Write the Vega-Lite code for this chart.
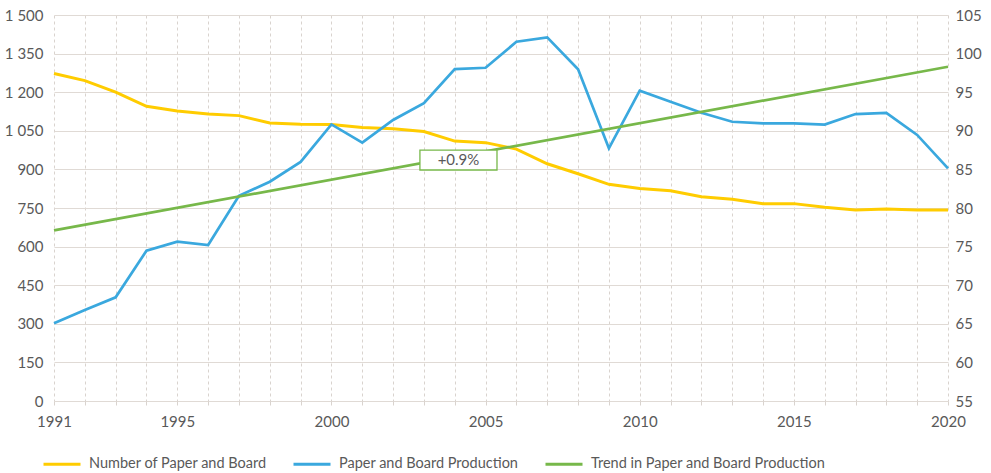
{
  "$schema": "https://vega.github.io/schema/vega-lite/v6.json",
  "autosize": {"type": "none"},
  "width": 894,
  "height": 386,
  "padding": {"left": 54, "top": 15, "right": 43, "bottom": 72},
  "background": "white",
  "config": {
    "view": {"stroke": null},
    "font": "Lato",
    "axis": {"labelFont": "Lato", "labelFontSize": 15, "labelColor": "#595959", "title": null, "labelOverlap": false},
    "legend": {"labelFont": "Lato", "labelFontSize": 14.5, "labelColor": "#595959", "labelLimit": 400}
  },
  "datasets": {
    "series": [
      {"year": 1991, "series": "Number of Paper and Board", "value": 1273},
      {"year": 1992, "series": "Number of Paper and Board", "value": 1245},
      {"year": 1993, "series": "Number of Paper and Board", "value": 1200},
      {"year": 1994, "series": "Number of Paper and Board", "value": 1145},
      {"year": 1995, "series": "Number of Paper and Board", "value": 1127},
      {"year": 1996, "series": "Number of Paper and Board", "value": 1115},
      {"year": 1997, "series": "Number of Paper and Board", "value": 1109},
      {"year": 1998, "series": "Number of Paper and Board", "value": 1080},
      {"year": 1999, "series": "Number of Paper and Board", "value": 1075},
      {"year": 2000, "series": "Number of Paper and Board", "value": 1074},
      {"year": 2001, "series": "Number of Paper and Board", "value": 1063},
      {"year": 2002, "series": "Number of Paper and Board", "value": 1058},
      {"year": 2003, "series": "Number of Paper and Board", "value": 1047},
      {"year": 2004, "series": "Number of Paper and Board", "value": 1010},
      {"year": 2005, "series": "Number of Paper and Board", "value": 1004},
      {"year": 2006, "series": "Number of Paper and Board", "value": 979},
      {"year": 2007, "series": "Number of Paper and Board", "value": 922},
      {"year": 2008, "series": "Number of Paper and Board", "value": 883},
      {"year": 2009, "series": "Number of Paper and Board", "value": 842},
      {"year": 2010, "series": "Number of Paper and Board", "value": 826},
      {"year": 2011, "series": "Number of Paper and Board", "value": 817},
      {"year": 2012, "series": "Number of Paper and Board", "value": 794},
      {"year": 2013, "series": "Number of Paper and Board", "value": 784},
      {"year": 2014, "series": "Number of Paper and Board", "value": 767},
      {"year": 2015, "series": "Number of Paper and Board", "value": 767},
      {"year": 2016, "series": "Number of Paper and Board", "value": 753},
      {"year": 2017, "series": "Number of Paper and Board", "value": 742},
      {"year": 2018, "series": "Number of Paper and Board", "value": 746},
      {"year": 2019, "series": "Number of Paper and Board", "value": 742},
      {"year": 2020, "series": "Number of Paper and Board", "value": 742},
      {"year": 1991, "series": "Paper and Board Production", "value": 65.07},
      {"year": 1992, "series": "Paper and Board Production", "value": 66.8},
      {"year": 1993, "series": "Paper and Board Production", "value": 68.43},
      {"year": 1994, "series": "Paper and Board Production", "value": 74.47},
      {"year": 1995, "series": "Paper and Board Production", "value": 75.63},
      {"year": 1996, "series": "Paper and Board Production", "value": 75.2},
      {"year": 1997, "series": "Paper and Board Production", "value": 81.57},
      {"year": 1998, "series": "Paper and Board Production", "value": 83.4},
      {"year": 1999, "series": "Paper and Board Production", "value": 85.97},
      {"year": 2000, "series": "Paper and Board Production", "value": 90.83},
      {"year": 2001, "series": "Paper and Board Production", "value": 88.47},
      {"year": 2002, "series": "Paper and Board Production", "value": 91.4},
      {"year": 2003, "series": "Paper and Board Production", "value": 93.57},
      {"year": 2004, "series": "Paper and Board Production", "value": 98.0},
      {"year": 2005, "series": "Paper and Board Production", "value": 98.17},
      {"year": 2006, "series": "Paper and Board Production", "value": 101.53},
      {"year": 2007, "series": "Paper and Board Production", "value": 102.1},
      {"year": 2008, "series": "Paper and Board Production", "value": 97.97},
      {"year": 2009, "series": "Paper and Board Production", "value": 87.73},
      {"year": 2010, "series": "Paper and Board Production", "value": 95.2},
      {"year": 2011, "series": "Paper and Board Production", "value": 93.77},
      {"year": 2012, "series": "Paper and Board Production", "value": 92.33},
      {"year": 2013, "series": "Paper and Board Production", "value": 91.17},
      {"year": 2014, "series": "Paper and Board Production", "value": 90.97},
      {"year": 2015, "series": "Paper and Board Production", "value": 90.97},
      {"year": 2016, "series": "Paper and Board Production", "value": 90.8},
      {"year": 2017, "series": "Paper and Board Production", "value": 92.17},
      {"year": 2018, "series": "Paper and Board Production", "value": 92.33},
      {"year": 2019, "series": "Paper and Board Production", "value": 89.47},
      {"year": 2020, "series": "Paper and Board Production", "value": 85.13},
      {"year": 1991, "series": "Trend in Paper and Board Production", "value": 77.1},
      {"year": 2020, "series": "Trend in Paper and Board Production", "value": 98.3}
    ],
    "note": [
      {"year": 2002.87, "year2": 2005.37, "value": 84.92, "value2": 87.5, "xm": 2004.12, "ym": 86.2, "label": "+0.9%"}
    ]
  },
  "layer": [
    {
      "data": {"name": "series"},
      "transform": [{"filter": "datum.series === 'Number of Paper and Board'"}],
      "mark": {"type": "line", "strokeWidth": 3, "interpolate": "linear"},
      "encoding": {
        "x": {
          "field": "year", "type": "quantitative",
          "scale": {"domain": [1991, 2020], "nice": false, "zero": false},
          "axis": {
            "values": [1991,1992,1993,1994,1995,1996,1997,1998,1999,2000,2001,2002,2003,2004,2005,2006,2007,2008,2009,2010,2011,2012,2013,2014,2015,2016,2017,2018,2019,2020],
            "labelExpr": "indexof([1991,1995,2000,2005,2010,2015,2020], datum.value) >= 0 ? datum.value + '' : ''",
            "domain": false, "labelOverlap": false,
            "ticks": true, "tickSize": 4, "tickColor": "#D9D3CE",
            "grid": true, "gridDash": [3, 3], "gridColor": "#D9D3CE", "gridWidth": 1,
            "labelPadding": 9, "labelFlush": false
          }
        },
        "y": {
          "field": "value", "type": "quantitative",
          "scale": {"domain": [0, 1500], "nice": false},
          "axis": {
            "orient": "left",
            "values": [0,150,300,450,600,750,900,1050,1200,1350,1500],
            "labelExpr": "replace(format(datum.value, ','), ',', ' ')",
            "domain": false, "ticks": false, "labelPadding": 11, "labelOverlap": false,
            "grid": true, "gridColor": "#E0DAD5", "gridWidth": 1.2
          }
        },
        "color": {
          "field": "series", "type": "nominal",
          "scale": {
            "domain": ["Number of Paper and Board", "Paper and Board Production", "Trend in Paper and Board Production"],
            "range": ["#FFCC00", "#3AA8DE", "#77B84A"]
          },
          "legend": {
            "title": null, "orient": "none", "direction": "horizontal",
            "legendX": -12, "legendY": 429,
            "symbolType": "stroke", "symbolSize": 1369, "symbolStrokeWidth": 3,
            "labelOffset": 7, "columnPadding": 20, "labelLimit": 400
          }
        }
      }
    },
    {
      "layer": [
        {
          "data": {"name": "series"},
          "transform": [{"filter": "datum.series !== 'Number of Paper and Board'"}],
          "mark": {"type": "line", "strokeWidth": 2.7},
          "encoding": {
            "x": {
              "field": "year", "type": "quantitative",
              "scale": {"domain": [1991, 2020], "nice": false, "zero": false},
              "axis": {
                "values": [1991,1992,1993,1994,1995,1996,1997,1998,1999,2000,2001,2002,2003,2004,2005,2006,2007,2008,2009,2010,2011,2012,2013,2014,2015,2016,2017,2018,2019,2020],
                "labelExpr": "indexof([1991,1995,2000,2005,2010,2015,2020], datum.value) >= 0 ? datum.value + '' : ''",
                "domain": false, "labelOverlap": false,
                "ticks": true, "tickSize": 4, "tickColor": "#D9D3CE",
                "grid": true, "gridDash": [3, 3], "gridColor": "#D9D3CE", "gridWidth": 1,
                "labelPadding": 9, "labelFlush": false
              }
            },
            "y": {
              "field": "value", "type": "quantitative",
              "scale": {"domain": [55, 105], "nice": false, "zero": false},
              "axis": {
                "orient": "right",
                "values": [55,60,65,70,75,80,85,90,95,100,105],
                "domain": false, "ticks": false, "grid": false, "labelPadding": 7, "labelOverlap": false
              }
            },
            "color": {"field": "series", "type": "nominal"}
          }
        },
        {
          "data": {"name": "note"},
          "mark": {"type": "rect", "fill": "white", "stroke": "#77B84A", "strokeWidth": 1.3},
          "encoding": {
            "x": {
              "field": "year", "type": "quantitative",
              "scale": {"domain": [1991, 2020], "nice": false, "zero": false},
              "axis": {
                "values": [1991,1992,1993,1994,1995,1996,1997,1998,1999,2000,2001,2002,2003,2004,2005,2006,2007,2008,2009,2010,2011,2012,2013,2014,2015,2016,2017,2018,2019,2020],
                "labelExpr": "indexof([1991,1995,2000,2005,2010,2015,2020], datum.value) >= 0 ? datum.value + '' : ''",
                "domain": false, "labelOverlap": false,
                "ticks": true, "tickSize": 4, "tickColor": "#D9D3CE",
                "grid": true, "gridDash": [3, 3], "gridColor": "#D9D3CE", "gridWidth": 1,
                "labelPadding": 9, "labelFlush": false
              }
            },
            "x2": {"field": "year2"},
            "y": {
              "field": "value", "type": "quantitative",
              "scale": {"domain": [55, 105], "nice": false, "zero": false},
              "axis": {
                "orient": "right",
                "values": [55,60,65,70,75,80,85,90,95,100,105],
                "domain": false, "ticks": false, "grid": false, "labelPadding": 7, "labelOverlap": false
              }
            },
            "y2": {"field": "value2"}
          }
        },
        {
          "data": {"name": "note"},
          "mark": {"type": "text", "font": "Lato", "fontSize": 15, "color": "#595959", "align": "center", "baseline": "middle"},
          "encoding": {
            "x": {
              "field": "xm", "type": "quantitative",
              "scale": {"domain": [1991, 2020], "nice": false, "zero": false},
              "axis": {
                "values": [1991,1992,1993,1994,1995,1996,1997,1998,1999,2000,2001,2002,2003,2004,2005,2006,2007,2008,2009,2010,2011,2012,2013,2014,2015,2016,2017,2018,2019,2020],
                "labelExpr": "indexof([1991,1995,2000,2005,2010,2015,2020], datum.value) >= 0 ? datum.value + '' : ''",
                "domain": false, "labelOverlap": false,
                "ticks": true, "tickSize": 4, "tickColor": "#D9D3CE",
                "grid": true, "gridDash": [3, 3], "gridColor": "#D9D3CE", "gridWidth": 1,
                "labelPadding": 9, "labelFlush": false
              }
            },
            "y": {
              "field": "ym", "type": "quantitative",
              "scale": {"domain": [55, 105], "nice": false, "zero": false},
              "axis": {
                "orient": "right",
                "values": [55,60,65,70,75,80,85,90,95,100,105],
                "domain": false, "ticks": false, "grid": false, "labelPadding": 7, "labelOverlap": false
              }
            },
            "text": {"field": "label"}
          }
        }
      ]
    }
  ],
  "resolve": {"scale": {"y": "independent"}, "axis": {"y": "independent"}}
}
